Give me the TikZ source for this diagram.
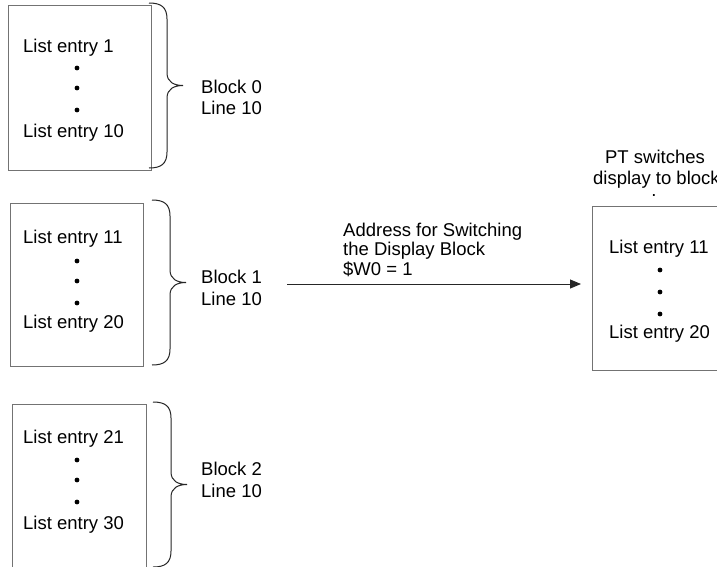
\documentclass[tikz,border=0pt]{standalone}
\usepackage{fontspec}
\setmainfont{Liberation Sans}
\usetikzlibrary{arrows.meta}
\tikzset{
  txt/.style={font=\fontsize{18.5}{22}\selectfont, inner sep=0pt, anchor=base west},
  ctxt/.style={font=\fontsize{18.5}{22}\selectfont, inner sep=0pt, anchor=base},
  listbox/.style={draw=black!55, line width=0.9pt, anchor=north west, inner sep=0pt},
  dotn/.style={circle, fill=black, inner sep=0pt, minimum size=4.8pt},
  bracestyle/.style={draw=black!85, line width=1pt},
  pics/brace/.style={code={
    \draw[bracestyle] (0,0) .. controls (12,0) and (18,4) .. (18,16) -- (18,70)
      .. controls (18,79) and (25,82.5) .. (34,82.5)
      .. controls (25,82.5) and (18,86) .. (18,95) -- (18,149)
      .. controls (18,161) and (12,165) .. (0,165);
  }},
  arr/.style={draw=black!85, line width=0.9pt, -{Triangle[length=11pt,width=9pt]}}
}
\begin{document}
\begin{tikzpicture}[x=1pt,y=-1pt]
\useasboundingbox (0,0) rectangle (717,566);
\clip (0,0) rectangle (717,566);
\fill[white] (0,0) rectangle (717,566);

% Block 0
\node[listbox, minimum width=143pt, minimum height=165pt] (box0) at (8,5) {};
\node[txt] (e1) at (23,52) {List entry 1};
\node[dotn] (d01) at (77,68) {};
\node[dotn] (d02) at (77,88) {};
\node[dotn] (d03) at (77,110) {};
\node[txt] (e10) at (23,137) {List entry 10};
\pic at (149,3) {brace};
\node[txt] (b0) at (201,93) {Block 0};
\node[txt] (l0) at (201,114) {Line 10};

% Block 1
\node[listbox, minimum width=133pt, minimum height=163pt] (box1) at (10,203) {};
\node[txt] (e11) at (23,243) {List entry 11};
\node[dotn] (d11) at (77,261) {};
\node[dotn] (d12) at (77,281) {};
\node[dotn] (d13) at (77,303) {};
\node[txt] (e20) at (23,328) {List entry 20};
\pic at (152,200) {brace};
\node[txt] (b1) at (201,283) {Block 1};
\node[txt] (l1) at (201,305) {Line 10};

% Block 2
\node[listbox, minimum width=134pt, minimum height=190pt] (box2) at (12,404) {};
\node[txt] (e21) at (23,443) {List entry 21};
\node[dotn] (d21) at (77,460) {};
\node[dotn] (d22) at (77,480) {};
\node[dotn] (d23) at (77,502) {};
\node[txt] (e30) at (23,529) {List entry 30};
\pic at (153,402) {brace};
\node[txt] (b2) at (201,475) {Block 2};
\node[txt] (l2) at (201,497) {Line 10};

% Right box
\node[listbox, minimum width=150pt, minimum height=164pt] (rbox) at (592,206) {};
\node[txt] (r11) at (609,253) {List entry 11};
\node[dotn] (rd1) at (660,270) {};
\node[dotn] (rd2) at (660,292) {};
\node[dotn] (rd3) at (660,314) {};
\node[txt] (r20) at (609,338) {List entry 20};
\node[ctxt] (pt1) at (655,163) {PT switches};
\node[txt] (pt2) at (593,184) {display to block};
\node[ctxt] (pt3) at (654,196) {.};

% Arrow and label
\coordinate (astart) at (287,284);
\coordinate (aend) at (581,284);
\draw[arr] (astart) -- (aend);
\node[txt] (lab1) at (343,236) {Address for Switching};
\node[txt] (lab2) at (343,255) {the Display Block};
\node[txt] (lab3) at (343,275) {\$W0 = 1};
\end{tikzpicture}
\end{document}
